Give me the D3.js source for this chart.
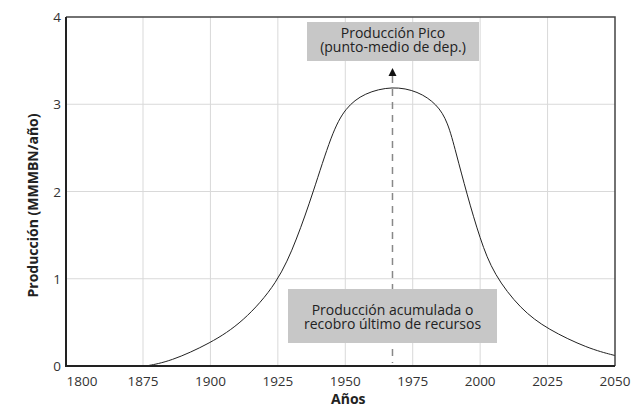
<!DOCTYPE html>
<html><head><meta charset="utf-8">
<script src="https://cdn.jsdelivr.net/npm/d3@7"></script>
<style>body{margin:0;background:#fff}text{font-family:"Open Sans",sans-serif}</style>
</head><body><svg id="c" width="640" height="416"></svg>
<script>
const years = [1876,1885,1900,1912,1925,1932,1938,1945,1950,1957,1967.5,1977,1984,1988,1991,1995,2000,2005,2015,2025,2040,2050];
const production = [0,0.05,0.26,0.5,0.95,1.45,1.98,2.67,2.96,3.13,3.21,3.15,3.0,2.8,2.45,1.98,1.45,1.05,0.65,0.42,0.2,0.12];
const xTicks = [1800,1875,1900,1925,1950,1975,2000,2025,2050];
const yTicks = [0,1,2,3,4];
const peakYear = 1967.5;
const peakLabel = ["Producción Pico","(punto-medio de dep.)"];
const cumLabel = ["Producción acumulada o","recobro último de recursos"];

const svg = d3.select("#c");
const L=66,R=615,T=17,B=366;
const x = d3.scaleLinear().domain([1800,1875,2050]).range([L,143,R]);
const y = d3.scaleLinear().domain([0,4]).range([B,T]);

const g = svg.append("g");
g.selectAll(".vg").data(xTicks.slice(1,-1)).join("line")
 .attr("x1",d=>x(d)).attr("x2",d=>x(d)).attr("y1",T).attr("y2",B).attr("stroke","#d9d9d9");
g.selectAll(".hg").data(yTicks.slice(1,-1)).join("line")
 .attr("x1",L).attr("x2",R).attr("y1",d=>y(d)).attr("y2",d=>y(d)).attr("stroke","#d9d9d9");

// dashed line & arrow
svg.append("line").attr("x1",x(peakYear)).attr("x2",x(peakYear)).attr("y1",76).attr("y2",B-3)
 .attr("stroke","#888").attr("stroke-width",1.5).attr("stroke-dasharray","7,6");
svg.append("path").attr("d",`M${x(peakYear)-4},76L${x(peakYear)+4},76L${x(peakYear)},68Z`).attr("fill","#111");

// boxes
const boxes=[{x0:307,x1:479,y0:22,y1:61,lines:peakLabel,ty:38},{x0:288,x1:497,y0:289,y1:343,lines:cumLabel,ty:315}];
boxes.forEach(b=>{
 svg.append("rect").attr("x",b.x0).attr("y",b.y0).attr("width",b.x1-b.x0).attr("height",b.y1-b.y0).attr("fill","#c7c7c7");
 b.lines.forEach((t,i)=>svg.append("text").attr("x",(b.x0+b.x1)/2).attr("y",b.ty+i*13.5).attr("text-anchor","middle")
  .attr("font-size",14).attr("fill","#222").text(t));
});

// curve
svg.append("path").datum(years.map((d,i)=>[d,production[i]]))
 .attr("d",d3.line().x(d=>x(d[0])).y(d=>y(d[1])).curve(d3.curveBasis))
 .attr("fill","none").attr("stroke","#222").attr("stroke-width",1);

// frame
svg.append("path").attr("d",`M${L},${T}H${R}V${B}`).attr("fill","none").attr("stroke","#444").attr("stroke-width",1.5);
svg.append("path").attr("d",`M${L},${T}V${B}H${R}`).attr("fill","none").attr("stroke","#222").attr("stroke-width",2);

// tick labels
svg.selectAll(".xt").data(xTicks).join("text").attr("x",d=>d===1800?x(d)+16:x(d)).attr("y",B+20)
 .attr("text-anchor","middle").attr("font-size",13.5).attr("fill","#333").text(d=>d);
svg.selectAll(".yt").data(yTicks).join("text").attr("x",L-5).attr("y",d=>y(d)+5)
 .attr("text-anchor","end").attr("font-size",13.5).attr("fill","#333").text(d=>d);

svg.append("text").attr("x",x(1950)+3).attr("y",404).attr("text-anchor","middle").attr("font-size",14)
 .attr("font-weight","bold").attr("fill","#222").text("Años");
svg.append("text").attr("transform",`translate(38,${(T+B)/2+14}) rotate(-90)`).attr("text-anchor","middle")
 .attr("font-size",14).attr("font-weight","bold").attr("fill","#222").text("Producción (MMMBN/año)");
</script></body></html>
